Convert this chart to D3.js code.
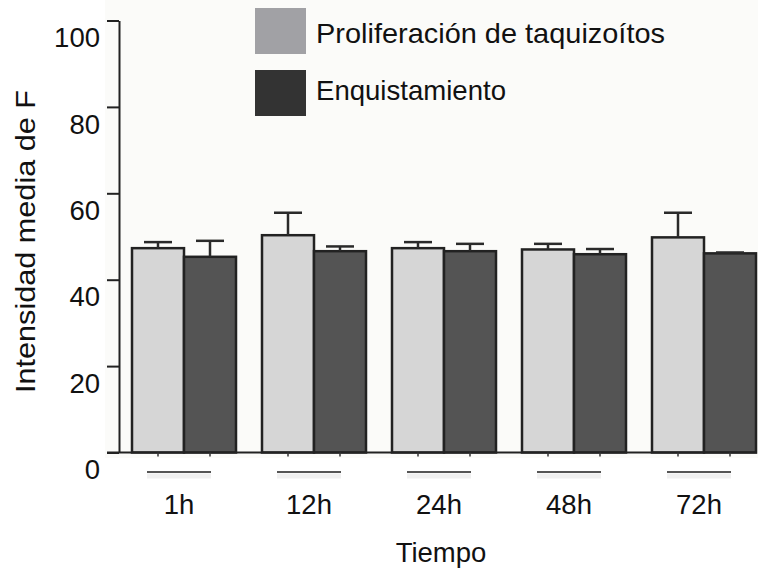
<!DOCTYPE html>
<html>
<head>
<meta charset="utf-8">
<script src="https://cdn.jsdelivr.net/npm/d3@7"></script>
<style>
  body { margin: 0; background: #fff; }
  text { font-family: "Liberation Sans", Arial, sans-serif; fill: #111; }
</style>
</head>
<body>
<svg id="drawing_region"></svg>
<script>
// data
const times = ["1h", "12h", "24h", "48h", "72h"];
const series = ["Proliferación de taquizoítos", "Enquistamiento"];
const prolifMean = [47.3, 50.3, 47.3, 47.0, 49.8];
const prolifErr  = [1.4, 5.2, 1.4, 1.3, 5.7];
const enqMean    = [45.3, 46.6, 46.6, 45.9, 46.1];
const enqErr     = [3.7, 1.1, 1.7, 1.2, 0.2];
const yTicks = [0, 20, 40, 60, 80, 100];

const W = 758, H = 569;
const fills = ["#d6d6d6", "#545454"];
const legendFills = ["#a1a1a5", "#333333"];
const legendWidths = [349, 190];

const rows = [];
times.forEach((t, i) => {
    rows.push({ time: t, s: series[0], v: prolifMean[i], e: prolifErr[i] });
    rows.push({ time: t, s: series[1], v: enqMean[i], e: enqErr[i] });
});

const svg = d3.select('#drawing_region')
    .attr('width', W)
    .attr('height', H);

svg.append('rect')
    .attr('x', 105).attr('y', 0)
    .attr('width', W - 105).attr('height', 458)
    .attr('fill', '#fbfbf9');

const xscale = d3.scaleBand()
    .domain(times)
    .range([119, 769])
    .paddingInner(0.2)
    .paddingOuter(0.1);

const xsub = d3.scaleBand()
    .domain(series)
    .range([0, xscale.bandwidth()]);

const yscale = d3.scaleLinear()
    .domain([0, 100])
    .range([452.5, 20.5]);

// bars
const bars = svg.append('g');
bars.selectAll('rect').data(rows)
    .enter()
    .append('rect')
    .attr('x', d => xscale(d.time) + xsub(d.s))
    .attr('y', d => yscale(d.v))
    .attr('width', xsub.bandwidth())
    .attr('height', d => yscale(0) - yscale(d.v))
    .attr('fill', d => fills[series.indexOf(d.s)])
    .attr('stroke', '#222')
    .attr('stroke-width', 2.5);

// error bars (upper only)
const err = svg.append('g')
    .attr('stroke', '#2a2a2a')
    .attr('stroke-width', 2.5);
rows.forEach(d => {
    const cx = xscale(d.time) + xsub(d.s) + xsub.bandwidth() / 2;
    err.append('line')
        .attr('x1', cx).attr('x2', cx)
        .attr('y1', yscale(d.v)).attr('y2', yscale(d.v + d.e));
    err.append('line')
        .attr('x1', cx - 14).attr('x2', cx + 14)
        .attr('y1', yscale(d.v + d.e)).attr('y2', yscale(d.v + d.e));
});

// y axis
const yaxis = d3.axisLeft(yscale)
    .tickValues(yTicks)
    .tickSize(12)
    .tickPadding(7)
    .tickSizeOuter(0);
const yg = svg.append('g')
    .attr('transform', 'translate(119,0)')
    .call(yaxis);
yg.select('.domain').attr('stroke', '#222').attr('stroke-width', 2);
yg.selectAll('.tick line').attr('stroke', '#222').attr('stroke-width', 2);
yg.selectAll('.tick text')
    .attr('font-size', '27.5px')
    .attr('font-family', '"Liberation Sans", Arial, sans-serif')
    .attr('fill', '#111')
    .attr('dy', '0.95em');

// x axis baseline
const lastX = xscale(times[times.length - 1]) + xscale.bandwidth();
svg.append('line')
    .attr('x1', 107).attr('x2', lastX + 1)
    .attr('y1', yscale(0)).attr('y2', yscale(0))
    .attr('stroke', '#222').attr('stroke-width', 2);

// small ticks under each bar
rows.forEach(d => {
    const cx = xscale(d.time) + xsub(d.s) + xsub.bandwidth() / 2;
    svg.append('line')
        .attr('x1', cx).attr('x2', cx)
        .attr('y1', yscale(0)).attr('y2', yscale(0) + 4)
        .attr('stroke', '#333').attr('stroke-width', 1.5);
});

// group underlines and labels
const groups = svg.append('g');
times.forEach(t => {
    const cx = xscale(t) + xscale.bandwidth() / 2 - 5;
    groups.append('line')
        .attr('x1', cx - 32).attr('x2', cx + 32)
        .attr('y1', 476).attr('y2', 476)
        .attr('stroke', '#f0f0f0').attr('stroke-width', 5);
    groups.append('line')
        .attr('x1', cx - 32).attr('x2', cx + 32)
        .attr('y1', 472).attr('y2', 472)
        .attr('stroke', '#555').attr('stroke-width', 2);
    groups.append('text')
        .attr('x', cx).attr('y', 514)
        .attr('text-anchor', 'middle')
        .attr('font-size', '27.5px')
        .text(t);
});

// axis titles
svg.append('text')
    .attr('x', 441).attr('y', 562)
    .attr('text-anchor', 'middle')
    .attr('font-size', '27.5px')
    .text('Tiempo');

svg.append('text')
    .attr('transform', 'translate(35,241.5) rotate(-90)')
    .attr('text-anchor', 'middle')
    .attr('font-size', '28px')
    .attr('textLength', 303)
    .attr('lengthAdjust', 'spacingAndGlyphs')
    .text('Intensidad media de F');

// legend
const legend = svg.append('g');
series.forEach((s, i) => {
    legend.append('rect')
        .attr('x', 255).attr('y', 8 + i * 62)
        .attr('width', 51).attr('height', 46)
        .attr('fill', legendFills[i]);
    legend.append('text')
        .attr('x', 316).attr('y', 43 + i * 57)
        .attr('font-size', '28px')
        .attr('textLength', legendWidths[i])
        .attr('lengthAdjust', 'spacingAndGlyphs')
        .text(s);
});
</script>
</body>
</html>
